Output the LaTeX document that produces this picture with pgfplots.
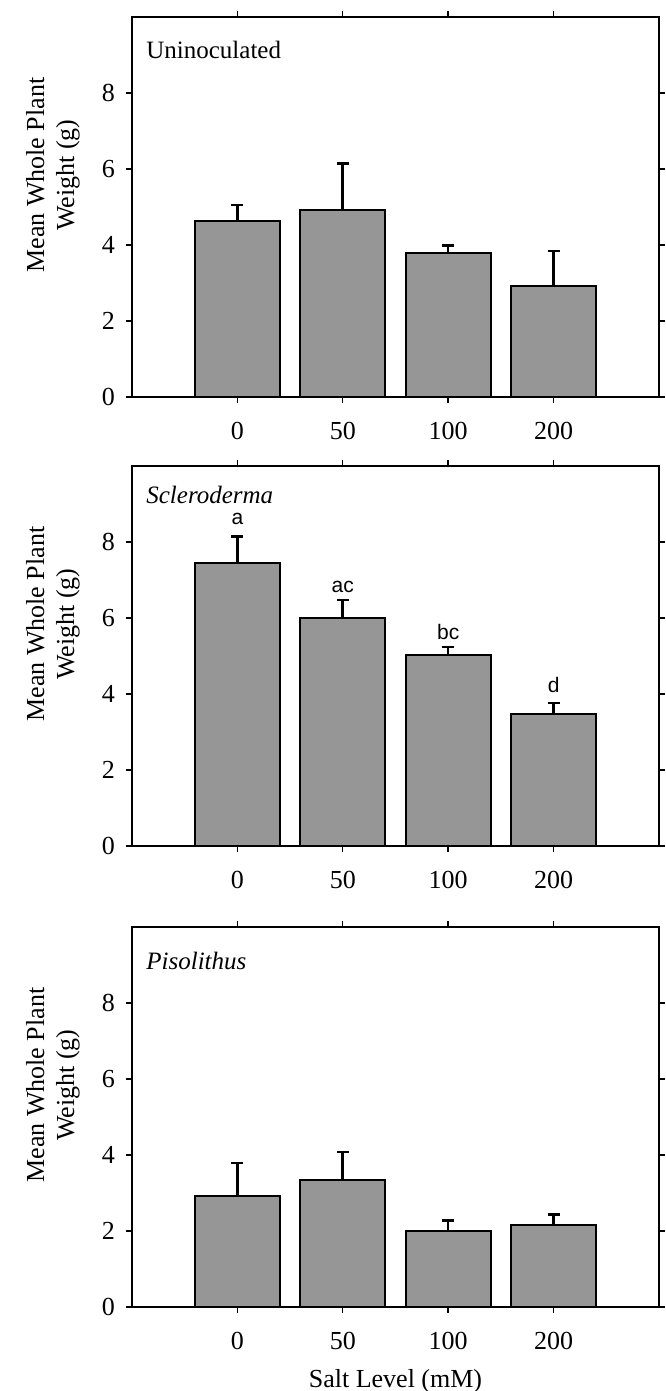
\documentclass[border=0pt]{standalone}
\usepackage{fontspec}
\setmainfont{Liberation Serif}
\newfontfamily\sansf{Liberation Sans}
\usepackage{pgfplots}
\pgfplotsset{compat=1.18}

\definecolor{barfill}{RGB}{150,150,150}

\pgfplotsset{
  panel/.style={
    scale only axis,
    width=263.5pt, height=190pt,
    anchor=south west,
    xmin=-1, xmax=4, ymin=0, ymax=10,
    xtick={0,1,2,3}, xticklabels={0,50,100,200},
    ytick={0,2,4,6,8},
    tick align=outside,
    major tick length=3pt,
    tick style={black, line width=0.7pt},
    axis line style={line width=1pt},
    /pgf/number format/assume math mode=true,
    tick label style={font=\fontsize{13}{14}\selectfont},
    xticklabel style={yshift=-6pt},
    yticklabel style={xshift=-2pt},
    ylabel={Mean Whole Plant\\Weight (g)},
    ylabel style={at={(axis description cs:-0.15,0.584)}, anchor=center,
      align=center, font=\fontsize{13}{15}\selectfont},
    ybar, bar width=0.81,
    clip=false,
  },
  bars/.style={
    fill=barfill, draw=black, line width=1pt,
    error bars/.cd, y dir=plus, y explicit,
    error bar style={line width=1.3pt},
    error mark options={rotate=90, mark size=3pt, line width=1.3pt},
  },
}

\begin{document}
\begin{tikzpicture}
\useasboundingbox (-66pt,-497pt) rectangle (266.5pt,198.5pt);

% Uninoculated
\begin{axis}[panel, at={(0,0)}]
  \addplot[bars] coordinates {
    (0,4.62) +- (0,0.43)
    (1,4.92) +- (0,1.22)
    (2,3.78) +- (0,0.21)
    (3,2.92) +- (0,0.92)
  };
  \node[anchor=base west, inner sep=0pt, font=\fontsize{12.5}{14}\selectfont]
    at ([xshift=7pt,yshift=-21pt]rel axis cs:0,1) {Uninoculated};
\end{axis}

% Scleroderma
\begin{axis}[panel, at={(0,-224.5pt)}]
  \addplot[bars] coordinates {
    (0,7.46) +- (0,0.69)
    (1,6.01) +- (0,0.46)
    (2,5.02) +- (0,0.22)
    (3,3.47) +- (0,0.29)
  };
  \node[anchor=base west, inner sep=0pt, font=\fontsize{12.5}{14}\selectfont\itshape]
    at ([xshift=7pt,yshift=-19pt]rel axis cs:0,1) {Scleroderma};
  \begin{scope}[every node/.style={font=\sansf\fontsize{10.5}{12}\selectfont}]
    \node at (axis cs:0,8.6) {a};
    \node at (axis cs:1,6.81) {ac};
    \node at (axis cs:2,5.62) {bc};
    \node at (axis cs:3,4.25) {d};
  \end{scope}
\end{axis}

% Pisolithus
\begin{axis}[panel, at={(0,-455pt)}, xlabel={Salt Level (mM)},
  xlabel style={font=\fontsize{13}{14}\selectfont, anchor=base,
    at={(axis description cs:0.5,0)}, yshift=-40pt}]
  \addplot[bars] coordinates {
    (0,2.91) +- (0,0.88)
    (1,3.33) +- (0,0.75)
    (2,2.00) +- (0,0.27)
    (3,2.16) +- (0,0.28)
  };
  \node[anchor=base west, inner sep=0pt, font=\fontsize{12.5}{14}\selectfont\itshape]
    at ([xshift=7pt,yshift=-21pt]rel axis cs:0,1) {Pisolithus};
\end{axis}
\end{tikzpicture}
\end{document}
